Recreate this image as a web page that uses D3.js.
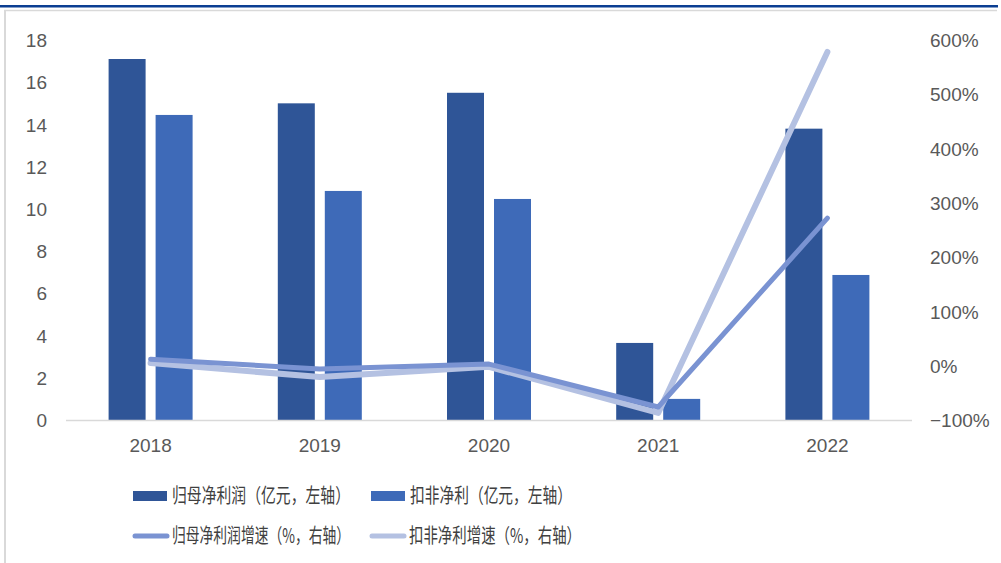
<!DOCTYPE html>
<html>
<head>
<meta charset="utf-8">
<title>净利润</title>
<script src="https://cdn.jsdelivr.net/npm/d3@7"></script>
<style>
  body { margin: 0; background: #fff; }
  text { font-family: "Liberation Sans", "DejaVu Sans", sans-serif; }
  .cn { font-family: "Noto Sans CJK SC", sans-serif; }
</style>
</head>
<body>
<script>
// 数据
var years = ["2018", "2019", "2020", "2021", "2022"];
var netProfit = [17.1, 15.0, 15.5, 3.65, 13.8];      // 归母净利润（亿元）
var deductProfit = [14.45, 10.85, 10.47, 1.0, 6.87]; // 扣非净利（亿元）
var netGrowth = [12, -6, 3, -76, 272];               // 归母净利润增速 %
var deductGrowth = [5, -21, -2, -87, 578];           // 扣非净利增速 %
var leftTicks = [0, 2, 4, 6, 8, 10, 12, 14, 16, 18];
var rightTicks = [-100, 0, 100, 200, 300, 400, 500, 600];

var W = 1001, H = 563;
var svg = d3.select("body").append("svg")
    .attr("width", W).attr("height", H);

// 顶部蓝线和灰框
svg.append("rect").attr("x", 0).attr("y", 5).attr("width", 998).attr("height", 2.5).attr("fill", "#0b3e92");
svg.append("line").attr("x1", 4).attr("x2", 997).attr("y1", 10.5).attr("y2", 10.5)
    .attr("stroke", "#d9d9d9").attr("stroke-width", 1.5);
svg.append("line").attr("x1", 5).attr("x2", 5).attr("y1", 10).attr("y2", H)
    .attr("stroke", "#d9d9d9").attr("stroke-width", 2);

var plot = {left: 66, right: 912, top: 40, bottom: 420};

var x = d3.scaleBand().domain(years).range([plot.left, plot.right]);
var yL = d3.scaleLinear().domain([0, 18]).range([plot.bottom, plot.top]);
var yR = d3.scaleLinear().domain([-100, 600]).range([plot.bottom, plot.top]);

// 坐标轴
var axisL = svg.append("g").attr("transform", "translate(" + 47 + ",0)")
    .call(d3.axisLeft(yL).tickValues(leftTicks).tickSize(0).tickPadding(0));
var axisR = svg.append("g").attr("transform", "translate(" + 930 + ",0)")
    .call(d3.axisRight(yR).tickValues(rightTicks).tickSize(0).tickPadding(0)
        .tickFormat(function(d){ return (d < 0 ? "\u2212" + (-d) : d) + "%"; }));
var axisB = svg.append("g").attr("transform", "translate(0," + (plot.bottom + 25) + ")")
    .call(d3.axisBottom(x).tickSize(0).tickPadding(0));
[axisL, axisR, axisB].forEach(function(a){
    a.select(".domain").remove();
    a.selectAll("text").attr("fill", "#595959").style("font-size", "19px");
});
axisL.selectAll("text").attr("dy", "0.35em");
axisR.selectAll("text").attr("dy", "0.35em");
axisB.selectAll("text").attr("dy", "0.35em");

// 柱子
var barW = 37, gap = 5;
svg.selectAll(".barA").data(netProfit).enter().append("rect")
    .attr("class", "barA")
    .attr("x", function(d, i){ return x(years[i]) + x.bandwidth() / 2 - gap - barW; })
    .attr("y", function(d){ return yL(d); })
    .attr("width", barW)
    .attr("height", function(d){ return yL(0) - yL(d); })
    .attr("fill", "#2f5597");
svg.selectAll(".barB").data(deductProfit).enter().append("rect")
    .attr("class", "barB")
    .attr("x", function(d, i){ return x(years[i]) + x.bandwidth() / 2 + gap; })
    .attr("y", function(d){ return yL(d); })
    .attr("width", barW)
    .attr("height", function(d){ return yL(0) - yL(d); })
    .attr("fill", "#3e6ab8");

// 基线
svg.append("line").attr("x1", plot.left).attr("x2", plot.right)
    .attr("y1", plot.bottom + 0.5).attr("y2", plot.bottom + 0.5)
    .attr("stroke", "#d9d9d9").attr("stroke-width", 1.5);

// 折线
var line = d3.line()
    .x(function(d, i){ return x(years[i]) + x.bandwidth() / 2; })
    .y(function(d){ return yR(d); });
svg.append("path").datum(deductGrowth).attr("d", line)
    .attr("fill", "none").attr("stroke", "#b4c1e2").attr("stroke-width", 6)
    .attr("stroke-linecap", "round").attr("stroke-linejoin", "round");
svg.append("path").datum(netGrowth).attr("d", line)
    .attr("fill", "none").attr("stroke", "#7a93d2").attr("stroke-width", 5)
    .attr("stroke-linecap", "round").attr("stroke-linejoin", "round");

// 图例
var legend = [
    {name: "归母净利润（亿元，左轴）", type: "bar", color: "#2f5597", x: 133, y: 496, tw: 178},
    {name: "扣非净利（亿元，左轴）", type: "bar", color: "#3e6ab8", x: 371, y: 496, tw: 162},
    {name: "归母净利润增速（%，右轴）", type: "line", color: "#7a93d2", x: 133, y: 536, tw: 178},
    {name: "扣非净利增速（%，右轴）", type: "line", color: "#b4c1e2", x: 370, y: 536, tw: 172}
];
var lg = svg.selectAll(".lg").data(legend).enter().append("g").attr("class", "lg");
lg.filter(function(d){ return d.type == "bar"; }).append("rect")
    .attr("x", function(d){ return d.x; }).attr("y", function(d){ return d.y - 5; })
    .attr("width", 34).attr("height", 10).attr("fill", function(d){ return d.color; });
lg.filter(function(d){ return d.type == "line"; }).append("line")
    .attr("x1", function(d){ return d.x + 2; }).attr("x2", function(d){ return d.x + 34; })
    .attr("y1", function(d){ return d.y; }).attr("y2", function(d){ return d.y; })
    .attr("stroke", function(d){ return d.color; }).attr("stroke-width", 5)
    .attr("stroke-linecap", "round");
lg.append("text").attr("class", "cn")
    .attr("x", function(d){ return d.x + 39; })
    .attr("y", function(d){ return d.y; })
    .attr("dy", "0.35em")
    .attr("textLength", function(d){ return d.tw; })
    .attr("lengthAdjust", "spacingAndGlyphs")
    .style("font-size", "20px")
    .attr("fill", "#404040")
    .text(function(d){ return d.name; });
</script>
</body>
</html>
